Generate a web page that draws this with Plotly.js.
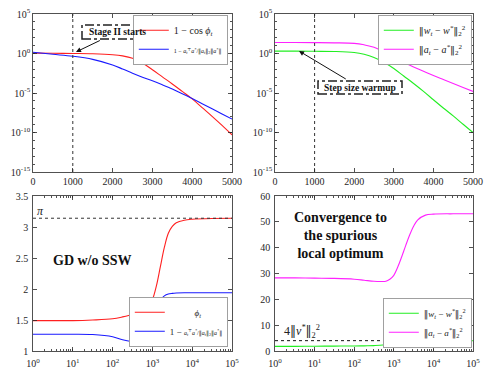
<!DOCTYPE html>
<html>
<head>
<meta charset="utf-8">
<script src="https://cdn.plot.ly/plotly-3.0.1.min.js"></script>
<style>html,body{margin:0;padding:0;background:#fff;}#chart{width:498px;height:372px;}</style>
</head>
<body>
<div id="chart"></div>
<script>
// ---- Data ----
// Top row: iteration index (linear x), log-scale y
const iterTop = [0, 500, 1000, 1500, 2000, 2250, 2500, 2750, 3000, 3250, 3500, 3750, 4000, 4250, 4500, 4750, 5000];
const oneMinusCosPhi = [1.12, 1.07, 1.0, 0.93, 0.71, 0.5, 0.25, 0.063, 8.9e-3, 1.1e-3, 1.4e-4, 1.6e-5, 1.8e-6, 1.4e-7, 1.1e-8, 7.9e-10, 5e-11];
const oneMinusCosA = [1.41, 0.79, 0.45, 0.18, 0.035, 0.011, 3.2e-3, 1.0e-3, 3.5e-4, 1.1e-4, 3.2e-5, 7.9e-6, 2.0e-6, 4.5e-7, 1.0e-7, 2.2e-8, 5e-9];
const wErrTop = [2.0, 2.0, 1.9, 1.78, 1.32, 0.79, 0.32, 0.079, 0.0126, 1.4e-3, 1.6e-4, 1.6e-5, 1.4e-6, 1.26e-7, 1.26e-8, 1.1e-9, 1e-10];
const aErrTop = [25, 25, 24, 22.4, 19, 12.6, 6.3, 1.58, 0.355, 0.079, 0.02, 5.6e-3, 1.6e-3, 5e-4, 1.6e-4, 5e-5, 1.6e-5];
const stageIIStart = 1000;

// Bottom row: iteration index (log x)
const iterBottom = [1, 3.16, 10, 31.6, 100, 178, 316, 447, 631, 794, 1000, 1259, 1585, 1995, 2512, 3162, 3981, 6310, 10000, 31623, 100000];
const phiT = [1.49, 1.49, 1.49, 1.50, 1.52, 1.55, 1.59, 1.63, 1.68, 1.74, 1.83, 2.05, 2.36, 2.67, 2.90, 3.01, 3.07, 3.11, 3.125, 3.137, 3.14];
const oneMinusCosABottom = [1.27, 1.27, 1.27, 1.265, 1.23, 1.18, 1.15, 1.14, 1.17, 1.25, 1.41, 1.66, 1.82, 1.89, 1.92, 1.93, 1.935, 1.94, 1.94, 1.94, 1.94];
const aErrBottom = [28.3, 28.3, 28.2, 28.1, 27.8, 27.4, 27.0, 26.9, 27.0, 27.8, 29.3, 32.5, 36.5, 40.8, 44.9, 48.3, 50.7, 52.6, 53.0, 53.1, 53.1];
const wErrBottom = [1.8, 1.8, 1.85, 1.9, 1.95, 2.0, 2.1, 2.2, 2.4, 2.6, 2.9, 3.3, 3.7, 3.9, 3.95, 3.95, 3.95, 3.95, 3.95, 3.95, 3.95];
const piLevel = Math.PI;
const fourVStar = 4;

// Tick labels
const linTickVals = [0, 1000, 2000, 3000, 4000, 5000];
const logYTickVals = [1e-15, 1e-10, 1e-5, 1e0, 1e5];
const logYTickText = ['10<sup>-15</sup>', '10<sup>-10</sup>', '10<sup>-5</sup>', '10<sup>0</sup>', '10<sup>5</sup>'];
const logXTickVals = [1, 10, 100, 1000, 10000, 100000];
const logXTickText = ['10<sup>0</sup>', '10<sup>1</sup>', '10<sup>2</sup>', '10<sup>3</sup>', '10<sup>4</sup>', '10<sup>5</sup>'];
const phiTickVals = [1, 1.5, 2, 2.5, 3, 3.5];
const phiTickText = ['1', '1.5', '2', '2.5', '3', '3.5'];
const errTickVals = [0, 10, 20, 30, 40, 50, 60];

// ---- Styling ----
const FONT = 'Liberation Serif, "DejaVu Serif", serif';
const AX = '#262626';
const RED = '#ff2020', BLUE = '#1a1aff', GREEN = '#22ee22', MAG = '#ff22ff';
const N = '<span style="font-family:\'DejaVu Serif\'">‖</span>';

function ax(extra) {
  return Object.assign({
    showline: true, mirror: 'allticks', linecolor: AX, linewidth: 0.8,
    ticks: 'inside', ticklen: 4, tickcolor: AX, tickwidth: 0.8,
    tickfont: {family: FONT, size: 10, color: AX},
    showgrid: false, zeroline: false, fixedrange: true
  }, extra);
}

const nameW = N + '<i>w<sub>t</sub></i> − <i>w<sup>*</sup></i>' + N + '<sub>2</sub><sup>2</sup>';
const nameA = N + '<i>a<sub>t</sub></i> − <i>a<sup>*</sup></i>' + N + '<sub>2</sub><sup>2</sup>';
const fracA = '<i>a<sub>t</sub><sup>⊤</sup>a<sup>*</sup></i>/' + N + '<i>a<sub>t</sub></i>' + N + '<sub>2</sub>' + N + '<i>a<sup>*</sup></i>' + N;

const traces = [
  // top-left
  {x: iterTop, y: oneMinusCosPhi, xaxis: 'x', yaxis: 'y', mode: 'lines', line: {color: RED, width: 1.1, shape: 'spline'},
   name: '1 − cos <i>ϕ<sub>t</sub></i>', legend: 'legend'},
  {x: iterTop, y: oneMinusCosA, xaxis: 'x', yaxis: 'y', mode: 'lines', line: {color: BLUE, width: 1.1, shape: 'spline'},
   name: '<span style="font-size:6px">1 − ' + fracA + '</span>', legend: 'legend'},
  {x: [stageIIStart, stageIIStart], y: [1e-15, 1e5], xaxis: 'x', yaxis: 'y', mode: 'lines', line: {color: '#333', width: 1, dash: 'dot'}, showlegend: false},
  // top-right
  {x: iterTop, y: wErrTop, xaxis: 'x2', yaxis: 'y2', mode: 'lines', line: {color: GREEN, width: 1.1, shape: 'spline'},
   name: nameW, legend: 'legend2'},
  {x: iterTop, y: aErrTop, xaxis: 'x2', yaxis: 'y2', mode: 'lines', line: {color: MAG, width: 1.1, shape: 'spline'},
   name: nameA, legend: 'legend2'},
  {x: [stageIIStart, stageIIStart], y: [1e-15, 1e5], xaxis: 'x2', yaxis: 'y2', mode: 'lines', line: {color: '#333', width: 1, dash: 'dot'}, showlegend: false},
  // bottom-left
  {x: iterBottom, y: phiT, xaxis: 'x3', yaxis: 'y3', mode: 'lines', line: {color: RED, width: 1.1, shape: 'spline'},
   name: '           <i>ϕ<sub>t</sub></i>', legend: 'legend3'},
  {x: iterBottom, y: oneMinusCosABottom, xaxis: 'x3', yaxis: 'y3', mode: 'lines', line: {color: BLUE, width: 1.1, shape: 'spline'},
   name: '1 − <span style="font-size:6px">' + fracA + '</span>', legend: 'legend3'},
  {x: [1, 100000], y: [piLevel, piLevel], xaxis: 'x3', yaxis: 'y3', mode: 'lines', line: {color: '#333', width: 1, dash: 'dot'}, showlegend: false},
  // bottom-right
  {x: iterBottom, y: wErrBottom, xaxis: 'x4', yaxis: 'y4', mode: 'lines', line: {color: GREEN, width: 1.1, shape: 'spline'},
   name: nameW, legend: 'legend4'},
  {x: iterBottom, y: aErrBottom, xaxis: 'x4', yaxis: 'y4', mode: 'lines', line: {color: MAG, width: 1.1, shape: 'spline'},
   name: nameA, legend: 'legend4'},
  {x: [1, 100000], y: [fourVStar, fourVStar], xaxis: 'x4', yaxis: 'y4', mode: 'lines', line: {color: '#111', width: 1, dash: 'dot'}, showlegend: false}
];

const W = 498, H = 372;
const px = v => v / W, py = v => 1 - v / H;
const domL = [px(33), px(232)], domR = [px(275), px(473)];
const domT = [py(172), py(14)], domB = [py(351), py(196)];

function legendBox(xr, yv, anchor, fs) {
  return {x: xr, xanchor: 'right', y: yv, yanchor: anchor, bgcolor: 'white', bordercolor: '#888', borderwidth: 0.8,
          font: {family: FONT, size: fs, color: '#222'}, itemwidth: 30, tracegroupgap: 0};
}

const layout = {
  width: W, height: H, margin: {l: 0, r: 0, t: 0, b: 0},
  paper_bgcolor: 'white', plot_bgcolor: 'white',
  font: {family: FONT, color: '#222'},
  xaxis: ax({domain: domL, anchor: 'y', range: [0, 5000], tickvals: linTickVals}),
  yaxis: ax({domain: domT, anchor: 'x', type: 'log', range: [-15, 5], tickvals: logYTickVals, ticktext: logYTickText,
             minor: {dtick: 1, ticks: 'inside', ticklen: 2, tickcolor: AX}}),
  xaxis2: ax({domain: domR, anchor: 'y2', range: [0, 5000], tickvals: linTickVals}),
  yaxis2: ax({domain: domT, anchor: 'x2', type: 'log', range: [-15, 5], tickvals: logYTickVals, ticktext: logYTickText,
              minor: {dtick: 1, ticks: 'inside', ticklen: 2, tickcolor: AX}}),
  xaxis3: ax({domain: domL, anchor: 'y3', type: 'log', range: [0, 5], tickvals: logXTickVals, ticktext: logXTickText,
              ticklabelstandoff: 3, minor: {dtick: 'D1', ticks: 'inside', ticklen: 2, tickcolor: AX}}),
  yaxis3: ax({domain: domB, anchor: 'x3', range: [1, 3.5], tickvals: phiTickVals, ticktext: phiTickText, ticklabelstandoff: 2}),
  xaxis4: ax({domain: domR, anchor: 'y4', type: 'log', range: [0, 5], tickvals: logXTickVals, ticktext: logXTickText,
              ticklabelstandoff: 3, minor: {dtick: 'D1', ticks: 'inside', ticklen: 2, tickcolor: AX}}),
  yaxis4: ax({domain: domB, anchor: 'x4', range: [0, 60], tickvals: errTickVals, ticklabelstandoff: 2}),
  legend: legendBox(px(228), py(15), 'top', 10),
  legend2: legendBox(px(472), py(15), 'top', 10),
  legend3: legendBox(px(228), py(347), 'bottom', 9),
  legend4: legendBox(px(472), py(298), 'top', 9),
  shapes: [
    {type: 'rect', xref: 'paper', yref: 'paper', x0: px(82), x1: px(153), y0: py(39), y1: py(25),
     line: {color: '#222', width: 1.5, dash: 'dashdot'}, fillcolor: 'white', layer: 'above'},
    {type: 'rect', xref: 'paper', yref: 'paper', x0: px(318), x1: px(402), y0: py(94), y1: py(81),
     line: {color: '#222', width: 1.5, dash: 'dashdot'}, fillcolor: 'white', layer: 'above'}
  ],
  annotations: [
    {xref: 'paper', yref: 'paper', x: px(76), y: py(52), ax: px(117.5), ay: py(32), axref: 'paper', ayref: 'paper',
     xanchor: 'center', yanchor: 'middle',
     text: '<b>Stage II starts</b>', showarrow: true, arrowhead: 2, arrowsize: 1, arrowwidth: 1, arrowcolor: '#111',
     font: {family: FONT, size: 9.5, color: '#111'}, borderpad: 3},
    {xref: 'paper', yref: 'paper', x: px(299), y: py(51), ax: px(360), ay: py(87.5), axref: 'paper', ayref: 'paper',
     xanchor: 'center', yanchor: 'middle',
     text: '<b>Step size warmup</b>', showarrow: true, arrowhead: 2, arrowsize: 1, arrowwidth: 1, arrowcolor: '#111',
     font: {family: FONT, size: 9.5, color: '#111'}, borderpad: 3},
    {xref: 'paper', yref: 'paper', x: px(40), y: py(211), xanchor: 'center', yanchor: 'middle', text: '<i>π</i>', showarrow: false,
     font: {family: FONT, size: 12, color: '#222'}},
    {xref: 'paper', yref: 'paper', x: px(92), y: py(260), xanchor: 'center', yanchor: 'middle', text: '<b>GD w/o SSW</b>', showarrow: false,
     font: {family: FONT, size: 14, color: '#111'}},
    {xref: 'paper', yref: 'paper', x: px(302), y: py(331), xanchor: 'center', yanchor: 'middle',
     text: '4' + N + '<i>v<sup>*</sup></i>' + N + '<sub>2</sub><sup>2</sup>', showarrow: false,
     font: {family: FONT, size: 12, color: '#222'}},
    {xref: 'paper', yref: 'paper', x: px(340), y: py(235), xanchor: 'center', yanchor: 'middle',
     text: '<b>Convergence to<br>the spurious<br>local optimum</b>', showarrow: false,
     font: {family: FONT, size: 14, color: '#111'}, align: 'center'}
  ],
  showlegend: true
};

Plotly.newPlot('chart', traces, layout, {staticPlot: true, displayModeBar: false});
</script>
</body>
</html>
